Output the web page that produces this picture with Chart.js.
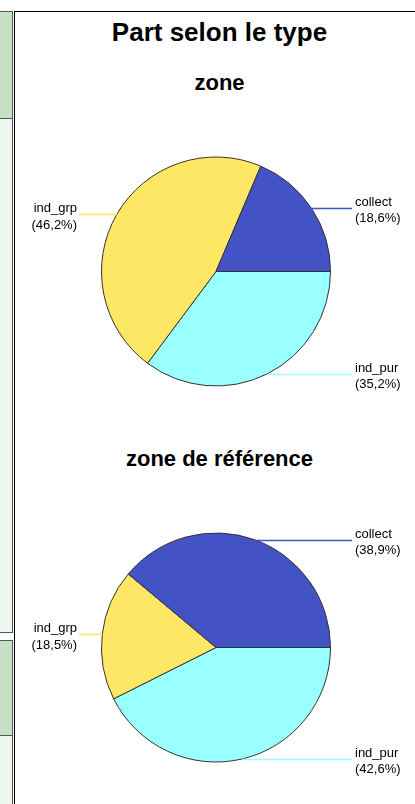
<!DOCTYPE html>
<html>
  <head>
    <meta charset="utf-8">
    <script src="https://cdn.jsdelivr.net/npm/chart.js@4.4.0/dist/chart.umd.min.js"></script>
    <style>
      body { margin: 0; background: #fff; font-family: "Liberation Sans", Arial, sans-serif; }
      #page { position: relative; width: 415px; height: 804px; overflow: hidden; }
      .side { position: absolute; left: 0; width: 12px; border-right: 1px solid #555; border-top: 1px solid #555; border-bottom: 1px solid #555; }
      .dark { background: #c6e2c6; }
      .light { background: #eef7ee; }
      #frame { position: absolute; left: 14px; top: 11px; width: 420px; height: 820px; border-left: 1px solid #000; border-top: 1px solid #000; }
      .title { position: absolute; left: 14px; width: 411px; text-align: center; font-weight: bold; color: #000; }
      canvas { position: absolute; left: 14px; }
    </style>
  </head>
  <body>
    <div id="page">
      <div class="side dark" style="top:11px;height:106px"></div>
      <div class="side light" style="top:118px;height:513px"></div>
      <div class="side dark" style="top:640px;height:94px"></div>
      <div class="side light" style="top:735px;height:80px"></div>
      <div id="frame"></div>

      <div class="title" style="top:19px;font-size:26px;line-height:26px">Part selon le type</div>
      <div class="title" style="top:72px;font-size:22px;line-height:22px">zone</div>
      <div class="title" style="top:448px;font-size:22px;line-height:22px">zone de référence</div>

      <canvas id="zoneChart" width="401" height="320" style="top:100px"></canvas>
      <canvas id="refChart" width="401" height="320" style="top:476px"></canvas>
    </div>

    <script>
      // slices go clockwise from 3 o'clock
      var categories = ['ind_pur', 'ind_grp', 'collect'];
      var zoneValues = [35.2, 46.2, 18.6];
      var refValues = [42.6, 18.5, 38.9];
      var sliceColors = ['#99ffff', '#ffe766', '#4353c6'];

      // leader lines + labels, placed from the arcs Chart.js computed
      var leaderLabels = {
        id: 'leaderLabels',
        afterDatasetsDraw: function (chart) {
          var ctx = chart.ctx;
          var arcs = chart.getDatasetMeta(0).data;
          var values = chart.data.datasets[0].data;
          ctx.save();
          ctx.font = '13px "Liberation Sans", Arial, sans-serif';
          ctx.fillStyle = '#000';
          arcs.forEach(function (arc, i) {
            var mid = (arc.startAngle + arc.endAngle) / 2;
            var px = arc.x + arc.outerRadius * Math.cos(mid);
            var py = Math.round(arc.y + arc.outerRadius * Math.sin(mid)) + 0.5;
            var pct = '(' + values[i].toFixed(1).replace('.', ',') + '%)';
            ctx.strokeStyle = sliceColors[i];
            ctx.lineWidth = 1.5;
            ctx.beginPath();
            if (Math.cos(mid) >= 0) {
              ctx.moveTo(px, py);
              ctx.lineTo(338, py);
              ctx.stroke();
              ctx.textAlign = 'left';
              ctx.fillText(categories[i], 341, py - 3);
              ctx.fillText(pct, 341, py + 13);
            } else {
              ctx.moveTo(65, py);
              ctx.lineTo(px, py);
              ctx.stroke();
              ctx.textAlign = 'right';
              ctx.fillText(categories[i], 63, py - 3);
              ctx.fillText(pct, 63, py + 14);
            }
          });
          ctx.restore();
        }
      };

      function makePie(id, values) {
        var ctx = document.getElementById(id).getContext('2d');
        return new Chart(ctx, {
          type: 'pie',
          data: {
            labels: categories,
            datasets: [{
              data: values,
              backgroundColor: sliceColors,
              borderColor: '#333',
              borderWidth: 1
            }]
          },
          options: {
            responsive: false,
            animation: false,
            rotation: 90,
            layout: { padding: { left: 87, right: 84, top: 56.5, bottom: 33.5 } },
            plugins: {
              legend: { display: false },
              tooltip: { enabled: false }
            }
          },
          plugins: [leaderLabels]
        });
      }

      var zoneChart = makePie('zoneChart', zoneValues);
      var refChart = makePie('refChart', refValues);
    </script>
  </body>
</html>
